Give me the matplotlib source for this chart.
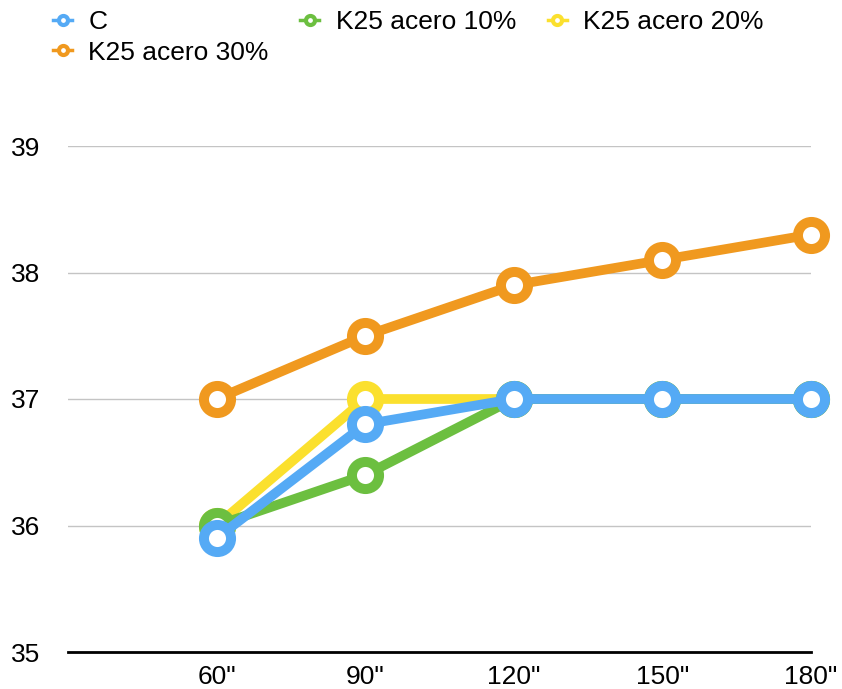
import matplotlib.pyplot as plt
from matplotlib.lines import Line2D

# ----------------------------------------------------------
# Datos
# ----------------------------------------------------------

categorias = ['60"', '90"', '120"', '150"', '180"']

serie_c = [35.9, 36.8, 37.0, 37.0, 37.0]
serie_10 = [36.0, 36.4, 37.0, 37.0, 37.0]
serie_20 = [36.0, 37.0, 37.0, 37.0, 37.0]
serie_30 = [37.0, 37.5, 37.9, 38.1, 38.3]

nombres = ["C", "K25 acero 10%", "K25 acero 20%", "K25 acero 30%"]
colores = ["#55aaf5", "#6cbf40", "#fbe02e", "#f0991f"]

plt.rcParams["font.family"] = ["Liberation Sans", "DejaVu Sans"]

fig = plt.figure(figsize=(8.42, 6.89), dpi=100)
ax = fig.add_axes([68 / 842, 37 / 689, (811 - 68) / 842, (652 - 146) / 689])

x = list(range(len(categorias)))

# orden de dibujo: naranja, amarillo, verde, azul (arriba)
orden = [
    (serie_30, colores[3]),
    (serie_20, colores[2]),
    (serie_10, colores[1]),
    (serie_c, colores[0]),
]

for z, (valores, color) in enumerate(orden):
    ax.plot(
        x,
        valores,
        color=color,
        linewidth=7,
        marker="o",
        markersize=19.5,
        markeredgewidth=7.2,
        markerfacecolor="white",
        markeredgecolor=color,
        solid_capstyle="butt",
        zorder=3 + z,
        clip_on=False,
    )

ax.set_xlim(-1, 4)
ax.set_ylim(35, 39)
ax.set_yticks([35, 36, 37, 38, 39])
ax.set_xticks(x)
ax.set_xticklabels(categorias)

ax.grid(axis="y", color="#c4c4c4", linewidth=1)
ax.set_axisbelow(True)

for lado in ["top", "right", "left"]:
    ax.spines[lado].set_visible(False)
ax.spines["bottom"].set_linewidth(2)
ax.spines["bottom"].set_color("black")

ax.tick_params(axis="both", length=0, labelsize=19)
ax.tick_params(axis="x", pad=9)
for t in ax.get_yticklabels():
    t.set_horizontalalignment("left")
ax.yaxis.set_tick_params(pad=41)

# ----------------------------------------------------------
# Leyenda
# ----------------------------------------------------------

manejadores = [
    Line2D(
        [], [],
        color=c,
        linewidth=2.5,
        marker="o",
        markersize=6.5,
        markeredgewidth=3,
        markerfacecolor="white",
        markeredgecolor=c,
    )
    for c in colores
]

idx = [0, 3, 1, 2]
fig.legend(
    [manejadores[i] for i in idx],
    [nombres[i] for i in idx],
    loc="upper left",
    bbox_to_anchor=(53 / 842, 1 - 10 / 689),
    borderaxespad=0,
    borderpad=0,
    ncol=3,
    frameon=False,
    fontsize=19,
    handlelength=0.72,
    handletextpad=0.62,
    columnspacing=1.2,
    labelspacing=0.25,
)

fig.savefig("out.png", dpi=100)
plt.close(fig)
